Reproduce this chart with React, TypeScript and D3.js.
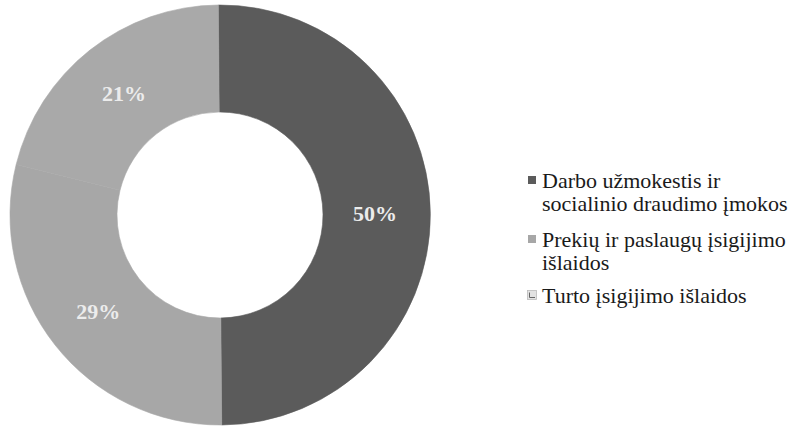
import React from "react";
import * as d3 from "d3";

const categories = [
  "Darbo užmokestis ir socialinio draudimo įmokos",
  "Prekių ir paslaugų įsigijimo išlaidos",
  "Turto įsigijimo išlaidos",
];
const values = [50, 29, 21];
const sliceColors = ["#5b5b5b", "#a7a7a7", "#a9a9a9"];
const legendLines = [
  ["Darbo užmokestis ir", "socialinio draudimo įmokos"],
  ["Prekių ir paslaugų įsigijimo", "išlaidos"],
  ["Turto įsigijimo išlaidos"],
];

export default function App() {
  const W = 800, H = 427;
  const cx = 220, cy = 215, rOuter = 210, rInner = 103;
  const start = -0.008;
  const pie = d3.pie<number>().sort(null).startAngle(start).endAngle(2 * Math.PI + start)(values);
  const arc = d3.arc<d3.PieArcDatum<number>>().innerRadius(rInner).outerRadius(rOuter);
  const labelArc = d3.arc<d3.PieArcDatum<number>>().innerRadius(155).outerRadius(155);
  const total = d3.sum(values);

  const legendX = 542;
  const legendTops = [188, 247, 303];
  const lh = 23;

  return (
    <svg width={W} height={H} style={{ position: "absolute", left: 0, top: 0, background: "#fff" }}
      fontFamily="'Liberation Serif', 'Times New Roman', serif">
      <g transform={`translate(${cx},${cy})`}>
        {pie.map((d, i) => (
          <path key={i} d={arc(d) || ""} fill={sliceColors[i]} stroke={sliceColors[i]} strokeWidth={0.6} />
        ))}
        {pie.map((d, i) => {
          const [x, y] = labelArc.centroid(d);
          return (
            <text key={"l" + i} x={x} y={y} dy="0.35em" textAnchor="middle"
              fontSize={22} fontWeight="bold" fill="#ececec">
              {Math.round((values[i] / total) * 100) + "%"}
            </text>
          );
        })}
      </g>
      <g>
        {categories.map((c, i) => (
          <g key={c}>
            {i < 2 ? (
              <rect x={528} y={legendTops[i] - 12} width={8} height={8} fill={sliceColors[i]} />
            ) : (
              <g>
                <rect x={527.5} y={legendTops[i] - 12.5} width={9} height={9} fill="#e2e2e2" stroke="#bbb" strokeWidth={0.8} />
                <path d={`M${529.5},${legendTops[i] - 10.5} V${legendTops[i] - 5.5} H${535}`} fill="none" stroke="#666" strokeWidth={1} />
              </g>
            )}
            {legendLines[i].map((t, j) => (
              <text key={j} x={legendX} y={legendTops[i] + j * lh} fontSize={22} fill="#1a1a1a">{t}</text>
            ))}
          </g>
        ))}
      </g>
    </svg>
  );
}
